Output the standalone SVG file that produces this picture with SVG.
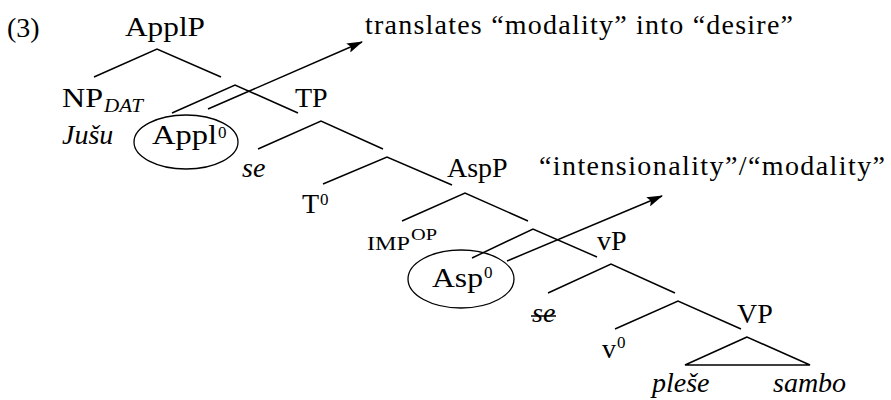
<svg xmlns="http://www.w3.org/2000/svg" width="891" height="400" viewBox="0 0 891 400" font-family="'Liberation Serif','Times New Roman',serif">
<defs>
<style>
text{font-family:"Liberation Serif","Times New Roman",serif;font-size:28px;fill:#000}
.it{font-style:italic}
.sup{font-size:17px}
.sc{font-size:18px}
.sub{font-size:19px;font-style:italic}
.br{stroke:#000;stroke-width:1.5;fill:none;stroke-linecap:butt}
.arr{stroke:#000;stroke-width:1.5;fill:none;marker-end:url(#ah)}
.ell{stroke:#000;stroke-width:1.3;fill:none}
</style>
<marker id="ah" viewBox="0 0 16 10" refX="15" refY="5" markerWidth="16" markerHeight="10" markerUnits="userSpaceOnUse" orient="auto">
<path d="M0,0 L16,5 L0,10 L3,5 Z" fill="#000"/>
</marker>
</defs>
<rect width="891" height="400" fill="#fff"/>
<text x="7" y="37">(3)</text>
<g id="ApplP"><text x="125" y="36" textLength="80" lengthAdjust="spacingAndGlyphs">ApplP</text></g>
<g id="note1"><text x="365" y="34" textLength="428">translates “modality” into “desire”</text></g>
<g id="NP"><text x="62" y="107" textLength="41" lengthAdjust="spacingAndGlyphs">NP</text><text class="sub" x="104" y="112" textLength="39" lengthAdjust="spacingAndGlyphs">DAT</text><text class="it" x="62" y="144">Jušu</text></g>
<g id="Appl0"><ellipse class="ell" cx="186" cy="142" rx="52" ry="27"/><text x="152" y="144" textLength="65" lengthAdjust="spacingAndGlyphs">Appl</text><text class="sup" x="218" y="138">0</text></g>
<g id="TP"><text x="295" y="107">TP</text></g>
<g id="se1"><text class="it" x="242" y="177">se</text></g>
<g id="T0"><text x="302" y="213">T</text><text class="sup" x="320" y="205">0</text></g>
<g id="AspP"><text x="447" y="177">AspP</text></g>
<g id="note2"><text x="539" y="175" textLength="346">“intensionality”/“modality”</text></g>
<g id="IMP"><text class="sc" x="367" y="250" textLength="43" lengthAdjust="spacingAndGlyphs">IMP</text><text class="sup" x="411" y="240" textLength="26" lengthAdjust="spacingAndGlyphs">OP</text></g>
<g id="Asp0"><ellipse class="ell" cx="461" cy="279" rx="53" ry="29"/><text x="432" y="287" textLength="51" lengthAdjust="spacingAndGlyphs">Asp</text><text class="sup" x="484" y="278">0</text></g>
<g id="vP"><text x="597" y="250">vP</text></g>
<g id="se2"><text class="it" x="532" y="322">se</text><line class="br" x1="531" y1="316" x2="556" y2="316"/></g>
<g id="v0"><text x="602" y="358">v</text><text class="sup" x="617" y="348">0</text></g>
<g id="VP"><text x="737" y="323">VP</text></g>
<g id="pleshe"><text class="it" x="652" y="392">pleše</text></g>
<g id="sambo"><text class="it" x="773" y="392">sambo</text></g>
<g id="connectors">
<polyline class="br" points="94,77 157,49 221,77"/>
<polyline class="br" points="172,113 235,85 298,113"/>
<polyline class="br" points="258,149 321,121 383,149"/>
<polyline class="br" points="323,184 387,157 452,185"/>
<polyline class="br" points="402,221 465,193 528,221"/>
<polyline class="br" points="472,258 533,229 597,257"/>
<polyline class="br" points="548,293 611,264 675,293"/>
<polyline class="br" points="615,329 678,301 741,329"/>
<polygon class="br" points="747,337 685,365 810,365"/>
<line class="arr" x1="208" y1="109" x2="362" y2="42"/>
<line class="arr" x1="507" y1="261" x2="662" y2="196"/>
</g>
</svg>
